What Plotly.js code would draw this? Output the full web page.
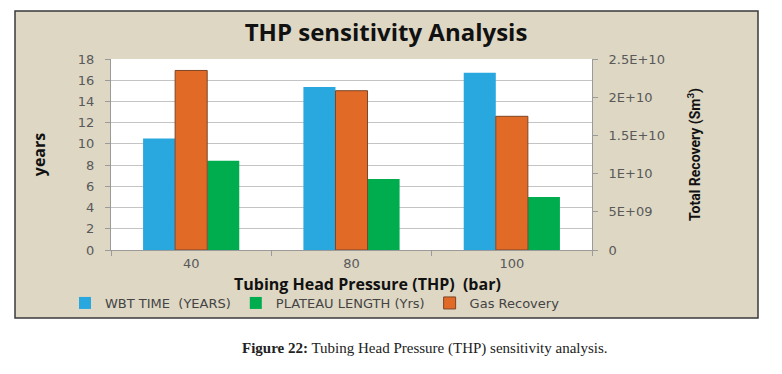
<!DOCTYPE html>
<html>
<head>
<meta charset="utf-8">
<script src="https://cdn.plot.ly/plotly-3.0.1.min.js"></script>
<style>html,body{margin:0;padding:0;background:#fff;}#chart{width:782px;height:374px;}</style>
</head>
<body>
<div id="chart"></div>
<script>
// Data
const categories = ["40", "80", "100"];
const wbtTime = [10.5, 15.35, 16.7];          // years
const plateauLength = [8.4, 6.7, 5.0];         // years
const gasRecovery = [2.35e10, 2.085e10, 1.75e10]; // Sm3
const leftTicks = [0, 2, 4, 6, 8, 10, 12, 14, 16, 18];
const rightTickVals = [0, 5e9, 1e10, 1.5e10, 2e10, 2.5e10];
const rightTickText = ["0", "5E+09", "1E+10", "1.5E+10", "2E+10", "2.5E+10"];

const W = 782, H = 374;
const M = {l: 111, r: 190, t: 59, b: 124};
const PW = W - M.l - M.r, PH = H - M.t - M.b;
const px = x => (x - M.l) / PW;
const py = y => (H - M.b - y) / PH;

const tickFont = {family: "DejaVu Sans", size: 13, color: "#595959"};

const traces = [
  {type: "bar", name: "WBT TIME  (YEARS)", x: categories, y: wbtTime, yaxis: "y",
   marker: {color: "#29a8e0"}, width: 0.2, offset: -0.3},
  {type: "bar", name: "PLATEAU LENGTH (Yrs)", x: categories, y: plateauLength, yaxis: "y",
   marker: {color: "#00ad4e"}, width: 0.2, offset: 0.1},
  {type: "bar", name: "Gas Recovery", x: categories, y: gasRecovery, yaxis: "y2",
   marker: {color: "#e26a27", line: {color: "#7d4526", width: 1}}, width: 0.2, offset: -0.1}
];

const layout = {
  width: W, height: H,
  margin: M,
  paper_bgcolor: "#ffffff",
  plot_bgcolor: "#ffffff",
  barmode: "group",
  showlegend: true,
  title: {text: "<b>THP sensitivity Analysis</b>", font: {family: "Open Sans", size: 24, color: "#111111"},
          xref: "paper", x: px(386), xanchor: "center", yref: "container", y: 1 - 33 / H, yanchor: "middle"},
  xaxis: {
    type: "category", categoryorder: "array", categoryarray: categories,
    tickfont: tickFont, ticks: "outside", ticklen: 5, tickcolor: "#9a9a9a", tickson: "boundaries",
    ticklabelstandoff: 1,
    showline: true, linecolor: "#9a9a9a", linewidth: 1, showgrid: false,
    automargin: false
  },
  yaxis: {
    range: [0, 18], tickvals: leftTicks, tickfont: tickFont,
    ticks: "outside", ticklen: 5, tickcolor: "#9a9a9a", ticklabelstandoff: 8,
    showline: true, linecolor: "#9a9a9a", linewidth: 1,
    showgrid: true, gridcolor: "#c4c4c4", gridwidth: 1, zeroline: false,
    title: {text: "<b>years</b>", font: {family: "Open Sans", size: 16, color: "#111111"}, standoff: 28},
    automargin: false
  },
  yaxis2: {
    overlaying: "y", side: "right", range: [0, 2.5e10],
    tickvals: rightTickVals, ticktext: rightTickText, tickfont: tickFont,
    ticks: "outside", ticklen: 5, tickcolor: "#9a9a9a", ticklabelstandoff: 8,
    showline: true, linecolor: "#9a9a9a", linewidth: 1,
    showgrid: false, zeroline: false,
    title: {text: "<b>Total Recovery (Sm<sup>3</sup>)</b>", font: {family: "Roboto", size: 14, color: "#111111"}, standoff: 26},
    automargin: false
  },
  legend: {
    orientation: "h", x: px(65), xanchor: "left", y: py(303), yanchor: "middle",
    font: {family: "DejaVu Sans", size: 13, color: "#444444"},
    bgcolor: "rgba(0,0,0,0)", traceorder: "normal", itemwidth: 30, tracegroupgap: 0
  },
  shapes: [
    {type: "rect", xref: "paper", yref: "paper", layer: "below",
     x0: px(15), x1: px(758), y0: py(318), y1: py(11),
     fillcolor: "#ddd7c4", line: {color: "#3a3a3a", width: 1.5}},
    {type: "rect", xref: "paper", yref: "paper", layer: "below",
     x0: 0, x1: 1, y0: 0, y1: 1, fillcolor: "#ffffff", line: {width: 0}}
  ],
  annotations: [
    {xref: "paper", yref: "paper", x: px(367), y: py(284), xanchor: "center", yanchor: "middle",
     showarrow: false, text: "<b>Tubing Head Pressure (THP)  (bar)</b>",
     font: {family: "Open Sans", size: 16, color: "#111111"}},
    {xref: "paper", yref: "paper", x: px(425), y: py(348), xanchor: "center", yanchor: "middle",
     showarrow: false, text: "<b>Figure 22:</b> Tubing Head Pressure (THP) sensitivity analysis.",
     font: {family: "Liberation Serif", size: 15, color: "#222222"}}
  ]
};

Plotly.newPlot("chart", traces, layout, {displayModeBar: false, staticPlot: true});
</script>
</body>
</html>
